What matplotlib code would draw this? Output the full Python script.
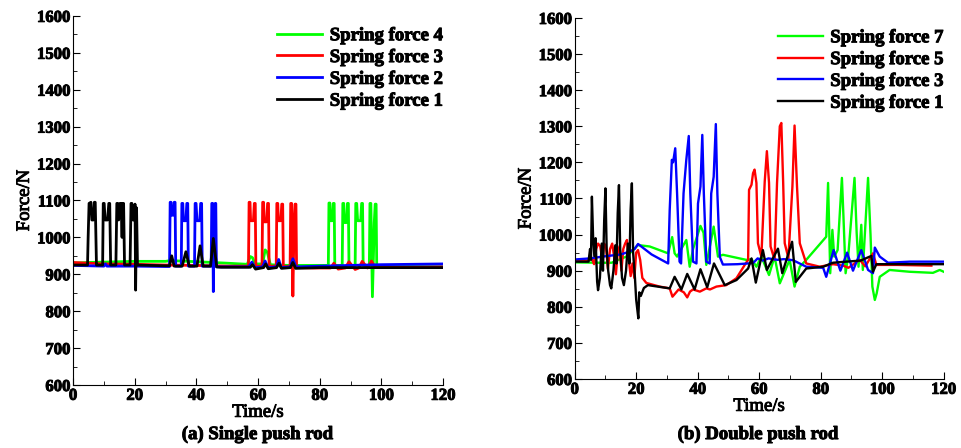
import matplotlib
matplotlib.use("Agg")
import matplotlib.pyplot as plt
import matplotlib.patheffects as pe
from matplotlib.ticker import MultipleLocator

plt.rcParams['font.family'] = ['Liberation Serif', 'DejaVu Serif']
plt.rcParams['font.weight'] = 'bold'

# ---------------- (a) Single push rod ----------------
a_green_t = [0, 5, 20, 30, 31.5, 40, 50, 56.5, 57.5, 58.2, 59, 61.5, 62.3, 63.0, 64, 66, 70, 75, 82.8,
             83.0, 83.3, 83.5, 84.1, 84.4, 84.7, 84.9, 87.3, 87.5, 87.8, 88.0, 88.7, 89.0, 89.3, 89.5,
             91.5, 91.7, 92.0, 92.3, 93.3, 93.6, 93.9, 94.1, 96.1, 96.3, 96.6, 97.1, 97.7, 98.0, 98.3, 98.5,
             100, 110, 120]
a_green_f = [930, 932, 935, 935, 937, 934, 930, 927, 948, 945, 928, 928, 966, 960, 926, 925, 924, 924, 924,
             1093, 1093, 1045, 1045, 1092, 1092, 924, 924, 1092, 1092, 1040, 1040, 1092, 1092, 924,
             924, 1092, 1092, 1045, 1045, 1092, 1092, 924, 924, 1092, 1092, 839, 1040, 1090, 1090, 921,
             921, 921, 920]

a_red_t = [0, 5, 10, 20, 30, 40, 50, 56.9,
           57.1, 57.4, 57.6, 58.5, 58.8, 59.1, 59.3, 61.3, 61.5, 61.8, 62.0, 62.8, 63.1, 63.4, 63.6,
           65.9, 66.1, 66.4, 66.6, 67.4, 67.7, 68.0, 68.2, 70.4, 70.6, 70.9, 71.3, 71.7, 72.0, 72.3, 72.5,
           78, 83.5, 84.6, 86, 88.3, 89.5, 91.5, 92.7, 93.8, 95.5, 96.8, 98, 100, 110, 120]
a_red_f = [932, 930, 928, 927, 925, 924, 922, 922,
           1095, 1095, 1045, 1045, 1092, 1092, 922, 922, 1095, 1095, 1042, 1042, 1092, 1092, 922,
           922, 1092, 1092, 1045, 1045, 1090, 1090, 921, 921, 1092, 1092, 841, 1040, 1090, 1090, 918,
           917, 917, 930, 914, 917, 934, 913, 917, 935, 917, 936, 918, 918, 919, 920]

a_blue_t = [0, 10, 10.5, 11, 20, 30, 31.3,
            31.5, 31.8, 32.0, 32.6, 32.8, 33.1, 33.3, 35.1, 35.3, 35.6, 35.8, 36.6, 36.9, 37.2, 37.4,
            39.4, 39.6, 39.9, 40.2, 41.1, 41.4, 41.7, 41.9, 44.8, 45.0, 45.3, 45.5, 45.8, 46.1, 46.3, 46.5,
            50, 57, 58, 59, 61.5, 62.3, 63.2, 66, 66.7, 67.5, 70.5, 71.3, 72.3, 80, 90, 100, 110, 120]
a_blue_f = [924, 922, 928, 922, 922, 921, 921,
            1095, 1095, 1060, 1060, 1095, 1095, 922, 922, 1092, 1092, 1045, 1045, 1092, 1092, 922,
            922, 1092, 1092, 1045, 1045, 1092, 1092, 922, 922, 1092, 1092, 853, 1040, 1092, 1092, 920,
            920, 920, 933, 918, 920, 936, 918, 920, 940, 918, 920, 942, 920, 922, 924, 926, 927, 928]

a_black_t = [0, 4.7,
             4.9, 5.2, 5.8, 6.1, 6.6, 6.9, 7.2, 7.6, 8.2, 9.6, 9.8, 10.1, 10.4, 11.2, 11.6, 11.9, 12.2,
             13.9, 14.2, 14.5, 14.8, 15.2, 15.6, 15.9, 16.1, 16.4, 16.7, 18.5, 18.8, 19.1, 19.4, 19.8,
             20.1, 20.3, 20.6, 20.9, 25, 30, 31.3, 32.0, 32.8, 35.4, 36.6, 37.7, 40.2, 41.2, 42.2,
             44.6, 45.5, 46.6, 48, 55, 57.5, 58.2, 59.2, 61.8, 62.5, 63.3, 66, 66.8, 67.6, 70.5, 71.3,
             72.2, 80, 90, 100, 110, 120]
a_black_f = [925, 925,
             1000, 1092, 1095, 1047, 1047, 1095, 1095, 925, 925, 925, 1092, 1092, 1047, 1047, 1092, 1092, 925,
             925, 1092, 1092, 1047, 1092, 1092, 1000, 1092, 1092, 925, 925, 1092, 1092, 1047, 1047,
             1090, 857, 1080, 925, 924, 923, 923, 950, 922, 922, 961, 922, 922, 977, 922,
             922, 997, 920, 919, 919, 919, 926, 914, 918, 928, 915, 918, 930, 916, 918, 932,
             916, 918, 918, 918, 918, 918]

# ---------------- (b) Double push rod ----------------
b_green_t = [0, 8, 12, 16.8, 20.6, 24.4, 30.4, 31.7, 32.5, 33.3, 36.3, 37.4, 38.5, 40.9, 41.9, 42.8,
             45.2, 46.6, 48.2, 55.8, 57.5, 59.1, 60.7, 63.2, 65.0, 66.7, 69.9, 71.5, 73.2, 75.3, 81.8,
             82.4, 82.8, 83.1, 83.8, 84.4, 85.5, 86.9, 87.4, 88.1, 89.0, 91.0, 91.7, 92.3, 93.2, 93.7,
             95.4, 96.2, 96.8, 97.6, 98.2, 99.2, 102.4, 108.9, 116.5, 118.7, 120]
b_green_f = [923, 922, 922, 939, 971, 967, 948, 993, 948, 939, 985, 911, 960, 1024, 1005, 916,
             1022, 939, 944, 930, 932, 911, 939, 888, 939, 865, 930, 856, 911, 930, 994,
             1143, 1004, 893, 1013, 939, 957, 1157, 1050, 893, 945, 1157, 1004, 911, 1027, 902,
             1157, 1000, 856, 819, 837, 883, 902, 897, 894, 902, 897]

b_red_t = [0, 4.5, 5.5, 6.3, 7.0, 7.6, 8.3, 9.0, 9.6, 10.2, 10.8, 11.5, 12.2, 12.8, 13.4, 14.0, 14.6,
           15.2, 15.8, 16.4, 17.0, 17.6, 18.2, 18.8, 19.4, 20.0, 20.6, 21.3, 22.0, 23.3, 27.6, 30.9,
           31.8, 33.0, 33.8, 35.5, 36.6, 37.5, 38.5, 40.7, 42.8, 44.0, 46.1, 49.3, 52.6, 55.3, 56.4,
           56.7, 57.5, 58.0, 58.5, 59.1, 59.6, 60.7, 61.8, 62.5, 63.2, 63.7, 65.0, 65.8, 66.7, 67.2,
           67.8, 68.3, 69.5, 70.8, 71.5, 72.3, 73.2, 75.3, 79.7, 84.0, 87.3, 89.0, 92.7, 94.5, 97.0,
           98.1, 105, 116]
b_red_f = [928, 928, 935, 918, 960, 975, 968, 930, 975, 965, 905, 960, 975, 940, 890, 950, 968,
           900, 960, 975, 985, 930, 885, 920, 880, 950, 957, 930, 880, 866, 856, 851,
           828, 840, 848, 840, 826, 842, 848, 842, 851, 848, 856, 860, 879, 916, 930,
           1124, 1138, 1170, 1180, 1143, 976, 939, 1147, 1231, 1143, 967, 930, 1143, 1300, 1309,
           1143, 976, 935, 1133, 1302, 1133, 976, 920, 911, 918, 914, 908, 930, 912, 948,
           916, 916, 914]

b_blue_t = [0, 5, 10, 15, 17.9, 19.5, 20.6, 25, 30.4, 30.9, 31.6, 32.0, 32.7, 33.3, 34.1, 34.6,
            35.4, 36.3, 37.1, 37.6, 38.5, 39.6, 40.1, 40.9, 41.5, 42.0, 42.8, 43.9, 44.4, 45.2, 45.9,
            46.4, 47.2, 48.2, 53, 58, 59.5, 61.2, 63, 66, 68, 71, 75.3, 80.8, 81.8, 84.2, 86.4, 88.6,
            90.5, 93.2, 95.4, 97.0, 97.6, 99.2, 101.9, 109, 120]
b_blue_f = [931, 934, 940, 945, 953, 960, 974, 945, 920, 1068, 1207, 1200, 1239, 1114, 925, 920,
            1114, 1207, 1273, 1114, 925, 920, 1086, 1133, 1276, 1114, 925, 920, 1114, 1160, 1306,
            1114, 938, 917, 918, 921, 934, 928, 934, 930, 932, 929, 911, 908, 883, 957, 900, 950,
            900, 957, 902, 893, 964, 939, 922, 925, 925]

b_black_t = [0, 4.5, 5.0, 5.3, 5.6, 6.0, 6.4, 6.8, 7.3, 7.6, 8.2, 8.8, 9.2, 9.6, 10.0, 10.4, 10.9,
             11.5, 11.9, 12.6, 13.2, 13.6, 14.0, 14.4, 14.8, 15.4, 16.0, 16.7, 17.3, 17.8, 18.2, 18.6,
             19.0, 19.6, 20.0, 20.4, 20.7, 21.0, 21.5, 22.5, 23.8, 30.9, 32.5, 34.7, 36.6, 39.0, 40.9,
             43.1, 45.3, 48.8, 52.6, 56.4, 57.5, 58.9, 61.2, 62.5, 66.1, 67.5, 70.7, 71.9, 75.3, 80.8,
             84.0, 88.3, 93, 96.5, 97.0, 98.1, 105, 120]
b_black_f = [925, 925, 960, 930, 1105, 990, 940, 990, 870, 846, 880, 975, 900, 1040, 1128, 960, 900,
             860, 851, 900, 970, 920, 1060, 1137, 960, 880, 860, 900, 975, 920, 1070, 1142,
             950, 880, 820, 790, 768, 840, 830, 852, 860, 851, 883, 848, 891, 848, 904,
             854, 920, 860, 874, 906, 934, 867, 957, 902, 961, 893, 980, 869, 906, 911,
             922, 925, 928, 941, 897, 918, 918, 918]

tick_labels_x = [0, 20, 40, 60, 80, 100, 120]
tick_labels_y = [600, 700, 800, 900, 1000, 1100, 1200, 1300, 1400, 1500, 1600]

# faux gras : trait fin autour du texte
bold = [pe.withStroke(linewidth=0.7, foreground='black')]

fig = plt.figure(figsize=(9.61, 4.48), dpi=100)
ax1 = fig.add_axes([0.076, 0.1406, 0.385, 0.824])
ax2 = fig.add_axes([0.598, 0.154, 0.384, 0.806])

panels = [
    (ax1, [(a_green_t, a_green_f, '#00ff00', 'Spring force 4'),
           (a_red_t, a_red_f, '#ff0000', 'Spring force 3'),
           (a_blue_t, a_blue_f, '#0000ff', 'Spring force 2'),
           (a_black_t, a_black_f, '#000000', 'Spring force 1')], 2.0),
    (ax2, [(b_green_t, b_green_f, '#00ff00', 'Spring force 7'),
           (b_red_t, b_red_f, '#ff0000', 'Spring force 5'),
           (b_blue_t, b_blue_f, '#0000ff', 'Spring force 3'),
           (b_black_t, b_black_f, '#000000', 'Spring force 1')], 1.7),
]

for ax, series, lw in panels:
    for t, f, c, lab in series:
        ax.plot(t, f, color=c, lw=lw, label=lab)
    ax.set_xlim(0, 120)
    ax.set_ylim(600, 1600)
    ax.set_xticks(tick_labels_x)
    ax.set_yticks(tick_labels_y)
    ax.xaxis.set_minor_locator(MultipleLocator(10))
    ax.yaxis.set_minor_locator(MultipleLocator(50))
    ax.tick_params(which='both', direction='in', labelsize=12, pad=2)
    ax.tick_params(which='major', length=5)
    ax.tick_params(which='minor', length=3)
    ax.spines['top'].set_visible(False)
    ax.spines['right'].set_visible(False)
    for lbl in ax.get_xticklabels() + ax.get_yticklabels():
        lbl.set_path_effects(bold)
    ax.set_xlabel('Time/s', fontsize=13.5, labelpad=0, path_effects=bold)
    ax.set_ylabel('Force/N', fontsize=13.5, labelpad=3, path_effects=bold)
    leg = ax.legend(loc='upper right', bbox_to_anchor=(1.03, 1.0), frameon=False,
                    prop={'size': 13.5}, handlelength=2.4,
                    labelspacing=0.25, borderaxespad=0.2, handletextpad=0.4)
    for txt in leg.get_texts():
        txt.set_path_effects(bold)

fig.text(0.268, 0.02, '(a) Single push rod', ha='center', fontsize=13.5, path_effects=bold)
fig.text(0.789, 0.02, '(b) Double push rod', ha='center', fontsize=13.5, path_effects=bold)

fig.savefig('out.png', dpi=100)
